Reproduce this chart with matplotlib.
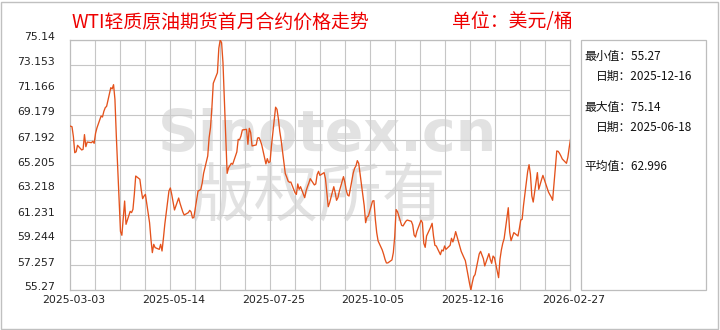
import numpy as np
import pandas as pd
import matplotlib
matplotlib.use("Agg")
import matplotlib.pyplot as plt
import matplotlib.dates as mdates
from matplotlib.patches import Rectangle
from matplotlib.transforms import blended_transform_factory, ScaledTranslation

plt.rcParams['font.family'] = ['Noto Sans CJK SC', 'DejaVu Sans']

# ---------------- data ----------------
start_date = '2025-02-28'
end_date = '2026-02-27'
prices = [
    68.36,
    68.25, 67.46, 66.18, 66.26, 66.77,
    66.40, 66.45, 67.62, 66.66, 67.03,
    66.98, 67.09, 66.93, 67.72, 68.15,
    69.10, 69.02, 69.47, 69.76, 69.87,
    71.35, 71.25, 71.59, 70.42, 67.51,
    59.93, 59.62, 61.02, 62.34, 60.49,
    61.52, 61.42, 61.68, 62.87, 64.33,
    64.07, 63.22, 62.53, 62.74, 62.87,
    60.62, 59.30, 58.24, 58.90, 58.64,
    58.50, 58.90, 58.37, 59.38, 60.49,
    63.14, 63.38, 62.87, 62.26, 61.63,
    62.58, 62.16, 61.81, 61.47, 61.23,
    61.42, 61.60, 61.47, 60.99, 61.05,
    63.14, 63.19, 63.27, 63.77, 64.54,
    65.92, 67.38, 68.17, 69.76, 71.70,
    72.54, 74.48, 75.14, 74.93, 73.34,
    64.54, 64.97, 65.15, 65.34, 65.26,
    66.24, 67.24, 67.22, 67.51, 67.99,
    68.04, 66.85, 68.12, 67.78, 66.72,
    66.80, 67.35, 67.38, 67.14, 66.80,
    65.29, 65.71, 65.39, 65.47, 66.72,
    69.80, 69.63, 68.89, 67.88, 67.17,
    64.52, 64.25, 63.93, 63.83, 63.85,
    63.01, 62.87, 63.70, 63.27, 63.48,
    62.61, 63.14, 63.48, 63.77, 64.12,
    63.62, 63.70, 64.44, 64.70, 64.38,
    64.60, 64.12, 63.01, 61.89, 62.21,
    63.48, 63.01, 62.40, 62.61, 63.11,
    64.28, 63.85, 63.19, 62.82, 62.74,
    64.54, 64.94, 65.13, 65.55, 65.34,
    62.79, 61.95, 60.62, 61.07, 61.15,
    62.34, 62.37, 60.89, 59.83, 59.17,
    58.45, 58.11, 57.71, 57.42, 57.42,
    57.66, 58.24, 59.51, 61.66, 61.50,
    60.41, 60.36, 60.54, 60.73, 60.83,
    60.73, 60.44, 59.64, 59.48, 59.93,
    60.81, 60.62, 58.98, 58.66, 59.56,
    60.28, 60.57, 59.56, 58.82, 58.77,
    58.08, 58.45, 58.37, 58.77, 58.50,
    58.82, 59.38, 59.09, 59.43, 59.91,
    58.71, 58.34, 58.08, 57.84, 57.60,
    55.80, 55.27, 55.85, 56.33, 56.49,
    58.13, 58.34, 58.05, 57.76, 57.18,
    58.16, 57.71, 57.39, 57.97, 57.84,
    56.25, 57.71, 58.45, 58.98, 59.35,
    61.81, 59.88, 59.19, 59.51, 59.83,
    59.56, 60.15, 60.83, 60.89, 62.00,
    64.70, 65.23, 64.46, 62.74, 62.26,
    64.60, 63.27, 63.67, 64.04, 64.38,
    63.40, 63.06, 62.85, 62.66, 62.40,
    66.32, 66.29, 66.13, 65.92, 65.68,
    65.34, 65.81, 66.61, 67.30, 67.78,
]
dates = pd.bdate_range(start_date, end_date)

y_tick_labels = ['55.27', '57.257', '59.244', '61.231', '63.218', '65.205',
                 '67.192', '69.179', '71.166', '73.153', '75.14']
x_tick_labels = ['2025-03-03', '2025-05-14', '2025-07-25',
                 '2025-10-05', '2025-12-16', '2026-02-27']

title_text = 'WTI轻质原油期货首月合约价格走势'
unit_text = '单位：美元/桶'
stat_lines = [
    ('最小值：55.27', 0),
    ('日期：2025-12-16', 1),
    ('最大值：75.14', 0),
    ('日期：2025-06-18', 1),
    ('平均值：62.996', 0),
]
watermark_en = 'Sinotex.cn'
watermark_cn = '版权所有'

# ---------------- figure ----------------
W, H = 720, 330
fig = plt.figure(figsize=(W / 100, H / 100), dpi=100)
fig.patch.set_facecolor('white')

ax = fig.add_axes([70 / W, 40 / H, 500 / W, 250 / H])
grid_c = '#c6c6c6'

yt = [float(v) for v in y_tick_labels]
ax.set_ylim(yt[0], yt[-1])
ax.set_yticks(yt)
ax.set_yticklabels(y_tick_labels, fontsize=7.8, color='#222222',
                   family=['DejaVu Sans'])
ax.tick_params(axis='y', length=0, pad=11)
for lab in ax.get_yticklabels():
    lab.set_transform(lab.get_transform() +
                      ScaledTranslation(0, 0.035, fig.dpi_scale_trans))
ax.grid(axis='y', color=grid_c, lw=0.8)
ax.set_axisbelow(True)

first_lbl = pd.Timestamp(x_tick_labels[0])
span_days = (pd.Timestamp(x_tick_labels[-1]) - first_lbl).days
left = first_lbl - pd.Timedelta(days=2 * span_days / 500)
right = left + pd.Timedelta(days=span_days)
ax.set_xlim(mdates.date2num(left), mdates.date2num(right))
ax.set_xticks([])

# vertical grid lines, 20 columns
for i in range(1, 20):
    ax.plot([i / 20, i / 20], [0, 1], transform=ax.transAxes,
            color=grid_c, lw=0.8, zorder=0.5)

for s in ax.spines.values():
    s.set_color('#bdbdbd')
    s.set_linewidth(0.9)

# x labels
bt = blended_transform_factory(ax.transData, ax.transAxes)
for lbl in x_tick_labels:
    ax.text(mdates.date2num(pd.Timestamp(lbl)), -0.04, lbl, transform=bt +
            ScaledTranslation(0.02, 0, fig.dpi_scale_trans),
            ha='center', va='center', fontsize=7.8, color='#222222',
            family=['DejaVu Sans'], clip_on=False)

# watermark
ax.text(328 / W, 1 - 151 / H, watermark_en, transform=fig.transFigure,
        ha='center', va='baseline', fontsize=41, fontweight='bold',
        family=['DejaVu Sans'], color='#cfcfcf', alpha=0.6, zorder=1)
ax.text(318 / W, 1 - 198 / H, watermark_cn, transform=fig.transFigure,
        ha='center', va='center', fontsize=46,
        color='#cfcfcf', alpha=0.6, zorder=1)

# price line
ax.plot(mdates.date2num(dates), prices, color='#e4521c', lw=0.95, zorder=3)

# titles
fig.text(72 / W, 1 - 22 / H, title_text, color='#ee0000', fontsize=13.6,
         ha='left', va='center')
fig.text(452 / W, 1 - 22 / H, unit_text, color='#ee0000', fontsize=13.6,
         ha='left', va='center')

# side panel
fig.add_artist(Rectangle((581 / W, 40 / H), 125 / W, 250 / H,
                         transform=fig.transFigure, fill=False,
                         ec='#bdbdbd', lw=0.9))
ys = [56, 76, 107, 127, 166]
for (txt, indent), yy in zip(stat_lines, ys):
    fig.text((584 + 12 * indent) / W, 1 - yy / H, txt, fontsize=8.5,
             color='#111111', ha='left', va='center')

# outer frame
fig.add_artist(Rectangle((1 / W, 1 / H), 717 / W, 327 / H,
                         transform=fig.transFigure, fill=False,
                         ec='#c0c0c0', lw=1.0))

fig.savefig('out.png', dpi=100, facecolor='white')
